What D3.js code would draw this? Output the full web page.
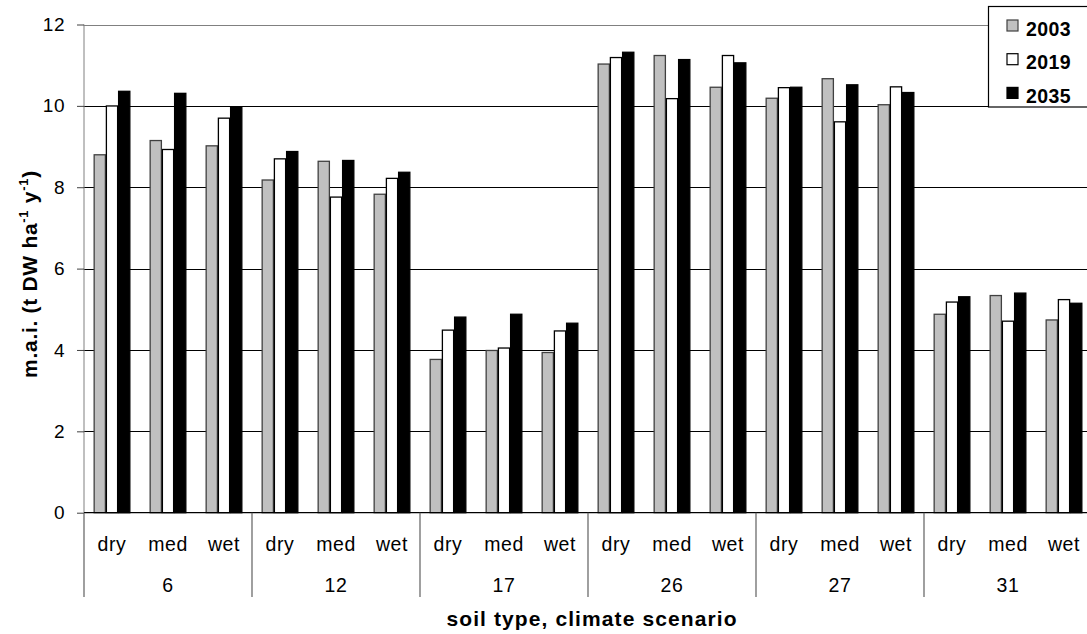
<!DOCTYPE html>
<html><head><meta charset="utf-8">
<script src="https://cdn.jsdelivr.net/npm/d3@7"></script>
<style>body{margin:0;background:#fff}svg{display:block}text{font-family:"Liberation Sans",Arial,sans-serif}</style>
</head><body><svg id="c" width="1087" height="634"></svg>
<script>
const soils = ["6","12","17","26","27","31"];
const scenarios = ["dry","med","wet"];
const series = ["2003","2019","2035"];
const yTicks = [0,2,4,6,8,10,12];
// values[series][soil*3+scenario]
const v2003 = [8.81,9.16,9.03, 8.19,8.65,7.84, 3.78,4.00,3.95, 11.04,11.25,10.47, 10.20,10.68,10.04, 4.89,5.35,4.75];
const v2019 = [10.01,8.94,9.71, 8.71,7.77,8.23, 4.50,4.06,4.48, 11.20,10.19,11.25, 10.46,9.62,10.48, 5.19,4.72,5.25];
const v2035 = [10.37,10.32,9.99, 8.89,8.67,8.38, 4.82,4.89,4.67, 11.33,11.15,11.07, 10.47,10.53,10.34, 5.32,5.41,5.16];
const seriesValues = [v2003, v2019, v2035];
const fills = ["#c0c0c0","#ffffff","#000000"];
const strokes = ["#404040","#000000","#000000"];

const svg = d3.select("#c");
const pL = 84, pT = 24.5, pB = 512.7, pR = 84 + 6*168;
const y = d3.scaleLinear().domain([0,12]).range([pB, pT]);
const xSoil = d3.scaleBand().domain(soils).range([pL, pR]);
const xScen = d3.scaleBand().domain(scenarios).range([0, xSoil.bandwidth()]);
const xSer = d3.scaleBand().domain(series).range([0, xScen.bandwidth()]).paddingOuter(0.79);

// gridlines
svg.append("g").selectAll("line").data(yTicks.filter(t=>t>0)).join("line")
  .attr("x1", pL).attr("x2", pR).attr("y1", d=>Math.round(y(d))+0.5).attr("y2", d=>Math.round(y(d))+0.5)
  .attr("stroke", d=> d===12 ? "#808080" : "#000").attr("stroke-width",1);

// y axis
const yAxis = svg.append("g").attr("transform",`translate(${pL},0)`)
  .call(d3.axisLeft(y).tickValues(yTicks).tickSize(7).tickPadding(12).tickFormat(d3.format("d")));
yAxis.select(".domain").attr("stroke","#808080").attr("d",`M0,${pT}V${pB}`);
yAxis.selectAll(".tick line").attr("stroke","#404040");
yAxis.selectAll(".tick text").attr("font-size",19).attr("letter-spacing",0.5).attr("fill","#000")
  .attr("font-family","Liberation Sans, Arial, sans-serif");

// bars
const cells = [];
soils.forEach((s,si)=>scenarios.forEach((c,ci)=>series.forEach((se,k)=>{
  cells.push({s, c, se, k, v: seriesValues[k][si*3+ci]});
})));
svg.append("g").selectAll("rect").data(cells).join("rect")
  .attr("x", d=>xSoil(d.s)+xScen(d.c)+xSer(d.se)+0.5)
  .attr("width", xSer.bandwidth()-1)
  .attr("y", d=>y(d.v)+0.5)
  .attr("height", d=>y(0)-y(d.v)-0.5)
  .attr("fill", d=>fills[d.k]).attr("stroke", d=>strokes[d.k]).attr("stroke-width",1.3);

// baseline
svg.append("line").attr("x1",pL).attr("x2",pR).attr("y1",y(0)).attr("y2",y(0))
  .attr("stroke","#000").attr("stroke-width",1.2);

// x separators
svg.append("g").selectAll("line").data(soils.map(s=>xSoil(s)).concat([pR])).join("line")
  .attr("x1",d=>d).attr("x2",d=>d).attr("y1",pB).attr("y2",597)
  .attr("stroke","#606060").attr("stroke-width",1.2);

// scenario labels
const sc = [];
soils.forEach(s=>scenarios.forEach(c=>sc.push({s,c})));
svg.append("g").selectAll("text").data(sc).join("text")
  .attr("x", d=>xSoil(d.s)+xScen(d.c)+xScen.bandwidth()/2)
  .attr("y", 551).attr("text-anchor","middle").attr("font-size",19.5).attr("letter-spacing",0.6).text(d=>d.c);
svg.append("g").selectAll("text").data(soils).join("text")
  .attr("x", d=>xSoil(d)+xSoil.bandwidth()/2)
  .attr("y", 592).attr("text-anchor","middle").attr("font-size",19.5).attr("letter-spacing",0.6).text(d=>d);

// axis titles
svg.append("text").attr("x", 592).attr("y", 626).attr("text-anchor","middle")
  .attr("font-size",21).attr("letter-spacing",1.1).attr("font-weight","bold").text("soil type, climate scenario");
const yt = svg.append("text").attr("transform",`translate(37,274) rotate(-90)`)
  .attr("text-anchor","middle").attr("font-size",21).attr("letter-spacing",0.7).attr("font-weight","bold");
yt.append("tspan").text("m.a.i. (t DW ha");
yt.append("tspan").attr("font-size",13).attr("dy",-9).text("-1");
yt.append("tspan").attr("dy",9).text(" y");
yt.append("tspan").attr("font-size",13).attr("dy",-9).text("-1");
yt.append("tspan").attr("dy",9).text(")");

// legend
const lg = svg.append("g");
lg.append("rect").attr("x",988.5).attr("y",6.5).attr("width",120).attr("height",100.5)
  .attr("fill","#fff").attr("stroke","#000").attr("stroke-width",1.2);
const li = lg.selectAll("g").data(series).join("g").attr("transform",(d,i)=>`translate(0,${25.5+i*33.7})`);
li.append("rect").attr("x",1007).attr("y",-5.5).attr("width",11).attr("height",11)
  .attr("fill",(d,i)=>fills[i]).attr("stroke",(d,i)=>strokes[i]).attr("stroke-width",1.2);
li.append("text").attr("x",1026).attr("y",4).attr("dy","0.32em").attr("font-size",19.5).attr("letter-spacing",0.4)
  .attr("font-weight","bold").text(d=>d);
</script></body></html>
